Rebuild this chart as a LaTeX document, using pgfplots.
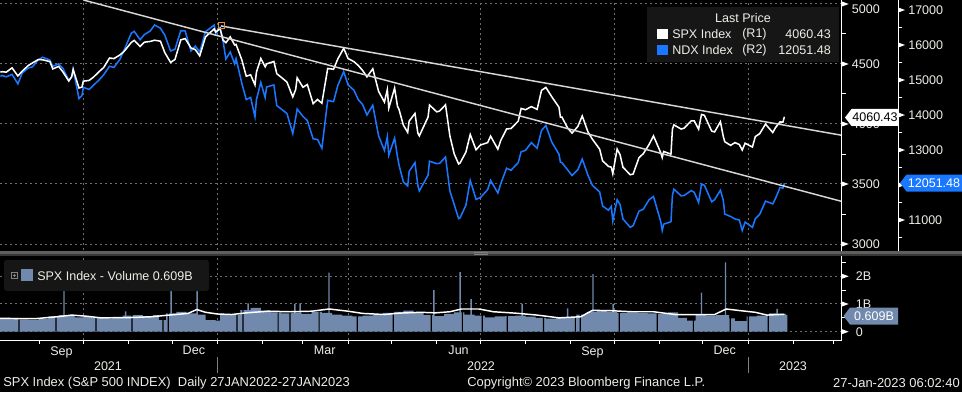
\documentclass[border=0pt]{standalone}
\usepackage{fontspec}
\setmainfont{Liberation Sans}
\usepackage{pgfplots}
\usepackage{pgfplotstable}
\pgfplotsset{compat=1.18}
\definecolor{ndxblue}{RGB}{25,120,255}
\definecolor{volblue}{RGB}{112,137,172}
\definecolor{gridgray}{RGB}{110,110,110}
\definecolor{legbg}{RGB}{22,22,22}
\definecolor{trend}{RGB}{215,215,215}
\definecolor{lbl}{RGB}{238,238,232}
\definecolor{sepA}{RGB}{95,95,95}
\definecolor{sepB}{RGB}{55,55,55}
\definecolor{anchororange}{RGB}{225,145,60}
\newcommand\fs{\fontsize{9.4pt}{11pt}\selectfont}
\newcommand\ffs{\fontsize{9.7pt}{11pt}\selectfont}

\pgfplotstableread{
x y
-149 4432
-148 4436
-145 4432
-141 4468
-137 4400
-134 4441
-130 4486
-127 4509
-123 4537
-120 4535
-115 4520
-113 4459
-109 4480
-106 4433
-102 4358
-100 4395
-99 4455
-95 4300
-93 4307
-92 4357
-88 4363
-85 4391
-81 4438
-78 4471
-74 4550
-71 4545
-67 4574
-64 4605
-59 4680
-57 4697
-53 4646
-50 4682
-46 4688
-43 4698
-39 4690
-36 4595
-32 4513
-29 4538
-25 4701
-22 4712
-18 4634
-15 4620
-12 4568
-8 4726
-2 4793
-1 4766
2 4796
4 4700
6 4677
9 4726
12 4659
13 4663
17 4533
20 4398
23 4410
26 4326
27 4432
30 4546
33 4477
34 4501
39 4521
41 4419
45 4380
48 4349
52 4226
54 4288
55 4385
59 4306
62 4329
66 4170
69 4204
72 4173
76 4463
80 4456
83 4543
87 4631
90 4546
94 4520
97 4488
100 4446
103 4393
107 4460
111 4272
115 4183
117 4287
118 4132
122 4300
124 4146
125 4123
128 3991
131 3930
132 4024
136 4088
138 3923
139 3901
145 4058
146 4158
151 4101
153 4109
157 4160
160 3901
163 3750
166 3667
167 3675
171 3765
174 3912
178 3785
181 3825
186 3845
188 3899
193 3790
195 3863
199 3959
202 3962
207 4024
209 4130
212 4119
216 4145
220 4122
223 4280
226 4305
230 4228
235 4140
236 4057
237 4058
241 3966
244 3924
248 3980
251 4067
255 3932
258 3873
263 3790
265 3693
269 3647
271 3640
272 3586
275 3791
277 3744
279 3640
284 3577
286 3583
290 3719
293 3753
297 3830
300 3901
305 3760
306 3720
307 3771
312 3749
313 3956
314 3993
319 3958
321 3965
326 4027
328 4026
331 3957
333 4080
335 4072
340 3941
342 3934
346 4019
348 3895
349 3852
353 3822
356 3845
359 3829
361 3783
363 3840
368 3808
370 3895
373 3919
377 3999
382 3929
384 3972
387 4017
389 4016
390 4060.43
}\spx

\pgfplotstableread{
x y
-149 15100
-148 15130
-145 15090
-141 15160
-137 14890
-134 15200
-130 15340
-127 15375
-123 15580
-120 15650
-115 15570
-113 15390
-109 15460
-106 15330
-102 14990
-100 15080
-99 15310
-95 14470
-93 14550
-92 14790
-88 14730
-85 14850
-81 15010
-78 15150
-74 15390
-71 15360
-67 15580
-64 15850
-59 16340
-57 16390
-53 16150
-50 16300
-46 16400
-43 16570
-39 16480
-36 16280
-32 15830
-29 15880
-25 16410
-22 16400
-18 15830
-15 15970
-12 15800
-8 16380
-2 16570
-1 16320
2 16500
4 16130
6 15600
9 15800
12 15460
13 15610
17 14900
20 14440
23 14500
26 13950
27 14440
30 14930
33 14500
34 14800
39 14860
41 14270
45 14140
48 14040
52 13470
54 13920
55 14170
59 13960
62 13840
66 13320
69 13300
72 13050
76 14420
80 14380
83 14850
87 15240
90 14860
94 14710
97 14440
100 14300
103 14000
107 14280
111 13400
115 12990
117 13380
118 12850
122 13340
124 12800
125 12580
128 12090
131 11970
132 12390
136 12640
138 11980
139 11830
145 12280
146 12680
151 12610
153 12620
157 12800
160 11830
163 11440
166 11040
167 11060
171 11420
174 12130
178 11590
181 11640
186 11870
188 12130
193 11770
195 12040
199 12480
202 12420
207 12640
209 12950
212 12990
216 13210
220 13050
223 13560
226 13700
230 13230
235 12880
236 12650
237 12640
241 12430
244 12270
248 12440
251 12740
255 12270
258 11990
263 11800
265 11400
269 11280
271 11390
272 10970
275 11580
277 11440
279 11030
284 10790
286 10840
290 11250
293 11310
297 11580
300 11670
305 10950
306 10700
307 10880
312 10950
313 11700
314 11880
319 11690
321 11700
326 11840
328 11790
331 11500
333 12030
335 11990
340 11520
342 11580
346 11850
348 11560
349 11170
353 11100
356 11030
359 11000
361 10700
363 10940
368 10790
370 11040
373 11160
377 11540
382 11460
384 11630
387 11930
389 11910
390 12051.48
}\ndx

\pgfplotstableread{
x y
-150 0
-150 0.48
-144 0.5
-137 0.44
-130 0.42
-123 0.46
-116 0.55
-109 0.6
-104 0.56
-98 0.52
-92 0.56
-86 0.5
-79 0.48
-72 0.52
-65 0.58
-58 0.6
-51 0.56
-44 0.6
-40 0.42
-35 0.66
-28 0.72
-21 0.66
-14 0.62
-8 0.42
-1 0.4
2 0.6
9 0.62
16 0.78
23 0.86
30 0.76
37 0.7
44 0.66
51 0.68
58 0.64
65 0.72
72 0.68
79 0.62
86 0.58
93 0.55
100 0.58
107 0.6
114 0.68
121 0.72
128 0.76
135 0.7
142 0.6
149 0.56
156 0.64
163 0.7
170 0.62
177 0.58
184 0.52
191 0.55
198 0.56
205 0.58
212 0.54
219 0.5
226 0.47
233 0.5
240 0.52
247 0.62
254 0.72
261 0.74
268 0.72
275 0.68
282 0.7
289 0.68
296 0.66
303 0.64
310 0.7
317 0.5
323 0.4
329 0.62
336 0.58
343 0.6
352 0.48
356 0.38
364 0.55
371 0.58
379 0.66
386 0.64
391 0.609
392 0.609
392 0
}\vol

\pgfplotstableread{
x y
-105.3 1.82
-63 0.73
-31.7 1.49
-13.8 1.82
21.3 1.02
53.5 1.0
57 1.02
76.9 2.13
149 1.5
167 2.15
174.6 1.18
209.6 1.0
241 0.84
258.4 2.08
272.3 1.0
333 1.41
349.5 2.5
385 0.82
}\spikes

\pgfplotstableread{
x y
-136.3 0.95
-110.8 0.95
-83.3 0.95
-58.5 0.95
-37.2 0.95
-33.6 0.95
13.7 0.95
17.8 0.95
41.9 0.95
50.1 0.95
70.1 0.95
96.3 0.95
121.1 0.95
147.2 0.95
168.6 0.95
182.3 0.95
199.5 0.95
224.3 0.95
246.3 0.95
249.7 0.95
276.5 0.95
302.6 0.95
327.4 0.95
352.8 0.95
365.2 0.95
378.9 0.95
}\gaps

\pgfplotstableread{
x y
-150 0.48
-125 0.47
-108 0.55
-100 0.6
-90 0.56
-80 0.5
-60 0.51
-45 0.54
-33 0.6
-20 0.66
-14 0.8
-8 0.7
0 0.64
10 0.62
20 0.68
35 0.74
50 0.72
65 0.74
77 0.82
90 0.74
100 0.66
115 0.62
125 0.67
140 0.7
150 0.68
160 0.72
168 0.82
180 0.82
190 0.72
205 0.67
220 0.6
235 0.5
250 0.54
258 0.77
270 0.76
285 0.72
300 0.72
315 0.62
330 0.62
342 0.62
350 0.82
358 0.77
370 0.7
378 0.6
390 0.63
}\ma

\pgfplotsset{
  bbbase/.style={
    scale only axis,
    axis line style={draw=none},
    major tick length=0pt, minor tick length=0pt,
    grid style={draw=gridgray, line width=0.75pt, dash pattern=on 1.5pt off 2.25pt},
    tick label style={font=\fs, text=lbl},
    yticklabel style={anchor=west, inner sep=0pt, xshift=7.5pt},
    scaled y ticks=false, scaled x ticks=false,
    /pgf/number format/1000 sep={},
    /pgf/number format/assume math mode=true,
  }
}

\begin{document}
\begin{tikzpicture}
\begin{scope}[x=0.75pt,y=-0.75pt]
\fill[black] (0,0) rectangle (962,392);
\end{scope}

% grid + SPX (R1) labels
\begin{axis}[bbbase, at={(0pt,0pt)}, anchor=north west,
  width=631.275pt, height=187.5pt,
  xmin=-149.3, xmax=429.4, ymin=2950, ymax=5033.3,
  xtick={-92,0,90,181,273,365}, xticklabels={},
  ytick={3000,3500,4000,4500}, extra y ticks={5000},
  extra y tick style={grid=major, yticklabel style={yshift=-3.75pt}},
  grid=major, yticklabel pos=right]
\end{axis}

% NDX (R2)
\begin{axis}[bbbase, at={(0pt,0pt)}, anchor=north west,
  width=673.5pt, height=187.5pt,
  xmin=-149.3, xmax=468.1, ymin=10142.9, ymax=17285.7,
  xtick=\empty, ytick={11000,12000,13000,14000,15000,16000,17000},
  yticklabel pos=right]
\addplot[ndxblue, line width=1.15pt] table {\ndx};
\end{axis}

% SPX data + trend lines
\begin{axis}[bbbase, at={(0pt,0pt)}, anchor=north west,
  width=631.275pt, height=187.5pt,
  xmin=-149.3, xmax=429.4, ymin=2950, ymax=5033.3,
  xtick=\empty, ytick=\empty]
\addplot[white, line width=1.15pt] table {\spx};
\addplot[trend, line width=1.1pt] coordinates {(2.7,4817) (429.4,3906)};
\addplot[trend, line width=1.1pt] coordinates {(-92,5033.3) (429.4,3355)};
\addplot[only marks, mark=square, mark size=2.25pt, mark options={draw=anchororange, line width=0.75pt}] coordinates {(2.7,4817)};
\end{axis}

% Volume panel
\begin{axis}[bbbase, at={(0pt,-192pt)}, anchor=north west,
  width=631.275pt, height=63pt,
  xmin=-149.3, xmax=429.4, ymin=-0.30, ymax=2.733,
  xtick={-92,0,90,181,273,365}, xticklabels={},
  minor xtick={-122,-61,-31,31,59,120,151,212,243,304,334,396,424},
  extra x ticks={-107,-16,74,166,258,349},
  extra x tick labels={Sep,Dec,Mar,Jun,Sep,Dec},
  extra x tick style={grid=none, major tick length=0pt},
  xticklabel style={anchor=north, inner sep=0pt, yshift=-4.5pt},
  major tick length=3pt, minor tick length=3pt, tick align=outside,
  xtick pos=left, xtick style={draw=white, line width=0.75pt},
  ytick style={draw=none},
  ytick={0,1,2}, yticklabels={0,1B,2B}, yticklabel pos=right,
  grid=major]
\addplot[const plot, draw=none, fill=volblue] table {\vol};
\addplot[ybar, bar width=1.1pt, bar shift=0pt, fill=volblue, draw=none] table {\spikes};
\addplot[ybar, bar width=0.9pt, bar shift=0pt, fill=black, draw=none] table {\gaps};
\addplot[white, line width=1.1pt] table {\ma};
\end{axis}

\begin{scope}[x=0.75pt,y=-0.75pt, every node/.style={font=\fs, text=lbl, inner sep=0pt}]
% separator band
\fill[sepA] (0,251) rectangle (962,253.5);
\fill[sepB] (0,253.5) rectangle (962,256);
\draw[gray, line width=0.5pt] (474,252.2)--(488,252.2) (474,253.9)--(488,253.9);
% axis lines
\draw[white, line width=0.75pt] (841.7,0)--(841.7,250.5);
\draw[white, line width=0.75pt] (898,0)--(898,250.5);
\draw[white, line width=0.75pt] (841.7,256)--(841.7,340) (0,340)--(842.1,340);
% R1 ticks
\foreach \yy in {4,64,124,184,244} {\fill[white] (841.7,\yy-2.6)--(848.7,\yy)--(841.7,\yy+2.6)--cycle;}
\foreach \yy in {34,94,154,214} {\draw[white, line width=0.75pt] (841.7,\yy)--(846,\yy);}
% R2 ticks
\foreach \yy in {10,45,80,115,150,185,220} {\fill[white] (898,\yy-2.6)--(905,\yy)--(898,\yy+2.6)--cycle;}
\foreach \yy in {27.5,62.5,97.5,132.5,167.5,202.5,237.5} {\draw[white, line width=0.75pt] (898,\yy)--(902.3,\yy);}
% volume ticks
\foreach \yy in {331.7,304,276.3} {\fill[white] (841.7,\yy-2.6)--(848.7,\yy)--(841.7,\yy+2.6)--cycle;}
\foreach \yy in {317.9,290.2,262.5} {\draw[white, line width=0.75pt] (841.7,\yy)--(846,\yy);}
% last value tags
\fill[white] (845,117.5)--(851.5,109)--(898,109)--(898,126)--(851.5,126)--cycle;
\node[text=black] at (875,117.5) {4060.43};
\fill[ndxblue] (900,183)--(906.5,174.5)--(962,174.5)--(962,191.5)--(906.5,191.5)--cycle;
\node[text=white] at (934,183) {12051.48};
\fill[volblue] (843.5,316)--(850,307.5)--(898,307.5)--(898,324.5)--(850,324.5)--cycle;
\node[text=white] at (874,316) {0.609B};
% price legend
\fill[legbg] (647,7) rectangle (839,62);
\node at (743,18) {Last Price};
\fill[white] (657,29) rectangle (668,39.5);
\node[anchor=west] at (672,34.5) {SPX Index};
\node[anchor=west] at (742,34.5) {(R1)};
\node[anchor=east] at (831,34.5) {4060.43};
\fill[ndxblue] (657,45) rectangle (668,55.5);
\node[anchor=west] at (672,50.5) {NDX Index};
\node[anchor=west] at (742,50.5) {(R2)};
\node[anchor=east] at (831,50.5) {12051.48};
% volume legend
\fill[legbg, rounded corners=2pt] (4,260) rectangle (209,291);
\draw[gray, line width=0.5pt] (11,272) rectangle (17,278);
\draw[gray, line width=0.5pt] (12.5,275)--(15.5,275) (14,273.5)--(14,276.5);
\fill[volblue] (21,269) rectangle (33,281);
\node[anchor=west] at (37,276) {SPX Index - Volume 0.609B};
% year row
\draw[gray, line width=0.75pt] (217,357)--(217,373) (748,357)--(748,373);
\node at (108,366) {2021};
\node at (481,366) {2022};
\node at (793,366) {2023};
% footer
\node[anchor=west, font=\ffs] at (3,383) {SPX Index (S\&P 500 INDEX)\ \ Daily 27JAN2022-27JAN2023};
\node[anchor=west, font=\ffs] at (467,383) {Copyright© 2023 Bloomberg Finance L.P.};
\node[anchor=east, font=\ffs] at (960,383) {27-Jan-2023 06:02:40};
\end{scope}
\pgfresetboundingbox
\path[x=0.75pt,y=-0.75pt] (0,0) rectangle (962,392);
\end{tikzpicture}
\end{document}
